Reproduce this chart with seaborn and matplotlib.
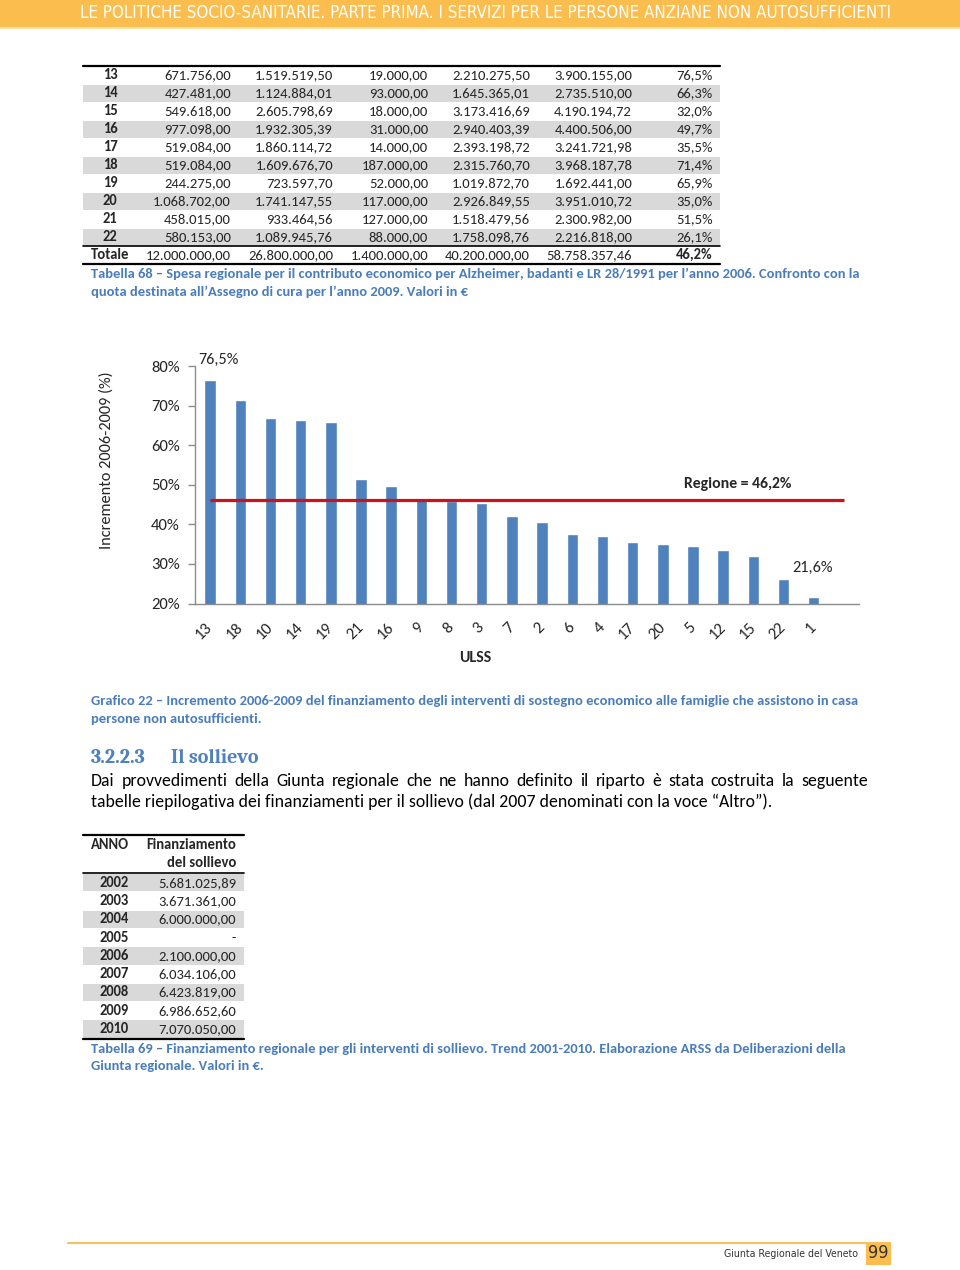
import matplotlib
matplotlib.use("Agg")
import matplotlib.pyplot as plt
import matplotlib.transforms as mtransforms
from matplotlib import font_manager
from matplotlib.font_manager import FontProperties
from matplotlib.patches import Rectangle
import pandas as pd
import seaborn as sns

# --- Grafico 22: incremento 2006-2009 per ULSS ---
ulss_order = ["13", "18", "10", "14", "19", "21", "16", "9", "8", "3", "7",
              "2", "6", "4", "17", "20", "5", "12", "15", "22", "1"]
incremento = [76.5, 71.4, 66.9, 66.3, 65.9, 51.5, 49.7, 46.7, 46.0, 45.5, 42.0,
              40.7, 37.5, 37.0, 35.5, 35.0, 34.5, 33.6, 32.0, 26.1, 21.6]
regione = 46.2

# --- Tabella 68 (righe visibili) ---
t68_ulss = ["13", "14", "15", "16", "17", "18", "19", "20", "21", "22", "Totale"]
t68_alzheimer = ["671.756,00", "427.481,00", "549.618,00", "977.098,00", "519.084,00",
                 "519.084,00", "244.275,00", "1.068.702,00", "458.015,00", "580.153,00",
                 "12.000.000,00"]
t68_badanti = ["1.519.519,50", "1.124.884,01", "2.605.798,69", "1.932.305,39", "1.860.114,72",
               "1.609.676,70", "723.597,70", "1.741.147,55", "933.464,56", "1.089.945,76",
               "26.800.000,00"]
t68_lr28 = ["19.000,00", "93.000,00", "18.000,00", "31.000,00", "14.000,00", "187.000,00",
            "52.000,00", "117.000,00", "127.000,00", "88.000,00", "1.400.000,00"]
t68_tot2006 = ["2.210.275,50", "1.645.365,01", "3.173.416,69", "2.940.403,39", "2.393.198,72",
               "2.315.760,70", "1.019.872,70", "2.926.849,55", "1.518.479,56", "1.758.098,76",
               "40.200.000,00"]
t68_assegno2009 = ["3.900.155,00", "2.735.510,00", "4.190.194,72", "4.400.506,00", "3.241.721,98",
                   "3.968.187,78", "1.692.441,00", "3.951.010,72", "2.300.982,00", "2.216.818,00",
                   "58.758.357,46"]
t68_incr = ["76,5%", "66,3%", "32,0%", "49,7%", "35,5%", "71,4%", "65,9%", "35,0%",
            "51,5%", "26,1%", "46,2%"]

# --- Tabella 69 ---
t69_anni = ["2002", "2003", "2004", "2005", "2006", "2007", "2008", "2009", "2010"]
t69_fin = ["5.681.025,89", "3.671.361,00", "6.000.000,00", "-", "2.100.000,00",
           "6.034.106,00", "6.423.819,00", "6.986.652,60", "7.070.050,00"]

BLUE = "#4F81BD"
CAP = "#4A7DBA"
ORANGE = "#FBBE4E"
GREY = "#D9D9D9"

available = {f.name for f in font_manager.fontManager.ttflist}
def pick(*names):
    for n in names:
        if n in available:
            return n
    return "DejaVu Sans"

BODY = pick("Carlito", "Lato", "Open Sans")
NARROW = pick("Liberation Sans Narrow", "Liberation Sans", "Arial")
SERIF = pick("Caladea", "Liberation Serif", "DejaVu Serif")

# a condensed face for the running header, if one is installed
header_prop = FontProperties(family=NARROW)
for f in font_manager.fontManager.ttflist:
    if ("Narrow" in f.name or "Condensed" in f.name or str(f.stretch) in ("condensed", "semi-condensed")) \
            and f.style == "normal" and f.weight in (400, "normal", "regular", "book"):
        header_prop = FontProperties(fname=f.fname)
        break

sns.set_theme(style="white")
plt.rcParams["font.family"] = [BODY, "DejaVu Sans"]

fig = plt.figure(figsize=(9.6, 12.7), dpi=100)
page = fig.add_axes([0, 0, 1, 1], zorder=0)
page.set_xlim(0, 960)
page.set_ylim(1270, 0)
page.axis("off")
renderer = fig.canvas.get_renderer()

def width_of(t):
    return t.get_window_extent(renderer=renderer).width

def fit_line(x0, x1, y, s, size, **kw):
    t = page.text(x0, y, s, fontsize=size, va="center", **kw)
    new = size * (x1 - x0) / width_of(t)
    t.set_fontsize(new)
    return new

def justify(x0, x1, y, s, size, **kw):
    ts = [page.text(0, y, w, fontsize=size, va="center", **kw) for w in s.split()]
    ws = [width_of(t) for t in ts]
    gap = (x1 - x0 - sum(ws)) / (len(ts) - 1)
    x = x0
    for t, w in zip(ts, ws):
        t.set_x(x)
        x += w + gap

# header band
page.add_patch(Rectangle((0, 0), 960, 27, color=ORANGE, lw=0))
page.add_patch(Rectangle((0, 27), 960, 2, color="#FDE3A8", lw=0))
t = page.text(80, 13.5, "LE POLITICHE SOCIO-SANITARIE. PARTE PRIMA. I SERVIZI PER LE PERSONE ANZIANE NON AUTOSUFFICIENTI",
              fontproperties=header_prop, va="center", color="white")
t.set_fontsize(13)
t.set_fontsize(13 * 810 / width_of(t))

# Tabella 68
TS = 10.5
cols68 = [t68_alzheimer, t68_badanti, t68_lr28, t68_tot2006, t68_assegno2009, t68_incr]
right68 = [231, 333, 428, 530, 632, 713]
for i, lab in enumerate(t68_ulss):
    y = 75 + 18 * i
    if i % 2 == 1 and lab != "Totale":
        page.add_patch(Rectangle((83, y - 8.5), 637, 17, color=GREY, lw=0))
    page.text(110, y, lab, ha="center", va="center", fontsize=TS, weight="bold")
    for col, xr in zip(cols68, right68):
        bold = lab == "Totale" and col is t68_incr
        page.text(xr, y, col[i], ha="right", va="center", fontsize=TS,
                  weight="bold" if bold else "normal")
page.plot([83, 720], [65.5, 65.5], color="black", lw=1.6)
page.plot([83, 720], [245.5, 245.5], color="black", lw=1.2)
page.plot([83, 720], [264, 264], color="black", lw=1.6)
s = fit_line(91, 860, 274, "Tabella 68 – Spesa regionale per il contributo economico per Alzheimer, badanti e LR 28/1991 per l’anno 2006. Confronto con la",
             9.5, color=CAP, weight="bold")
page.text(91, 292, "quota destinata all’Assegno di cura per l’anno 2009. Valori in €", fontsize=s,
          va="center", color=CAP, weight="bold")

# Grafico 22
CS = 12
df = pd.DataFrame({"ulss": ulss_order, "incremento": incremento})
ax = fig.add_axes([195 / 960, 1 - 603.5 / 1270, 664 / 960, (603.5 - 366) / 1270], zorder=2)
ax.set_facecolor("none")
sns.barplot(data=df, x="ulss", y="incremento", order=ulss_order, color=BLUE,
            saturation=1, width=0.38, errorbar=None, ax=ax)
ax.hlines(regione, 0, len(ulss_order), color="#C8141E", lw=2.3, zorder=3)
ax.set_xlim(-0.5, len(ulss_order) + 0.5)
ax.set_ylim(20, 80)
ax.set_yticks(range(20, 81, 10))
ax.set_yticklabels([f"{v}%" for v in range(20, 81, 10)])
ax.set_xlabel("")
ax.set_ylabel("")
for side in ["top", "right"]:
    ax.spines[side].set_visible(False)
for side in ["left", "bottom"]:
    ax.spines[side].set_color("#8C8C8C")
    ax.spines[side].set_linewidth(1)
ax.tick_params(axis="y", length=5, width=1, color="#8C8C8C", pad=6, labelsize=CS, left=True)
ax.tick_params(axis="x", length=0, pad=12, labelsize=CS)
shift = mtransforms.ScaledTranslation(0.05, 0, fig.dpi_scale_trans)
for lab in ax.get_xticklabels():
    lab.set_rotation(45)
    lab.set_ha("right")
    lab.set_transform(lab.get_transform() + shift)
ax.text(-0.4, 81.5, "76,5%", fontsize=11.7, va="center", clip_on=False)
ax.text(15.7, 50.2, "Regione = 46,2%", fontsize=11.3, weight="bold", va="center")
ax.text(19.3, 29.0, "21,6%", fontsize=11.7, va="center")
page.text(107, 460, "Incremento 2006-2009 (%)", rotation=90, ha="center", va="center", fontsize=11.8)
page.text(475, 658, "ULSS", ha="center", va="center", fontsize=11.5, weight="bold")

s = fit_line(91, 857, 701, "Grafico 22 – Incremento 2006-2009 del finanziamento degli interventi di sostegno economico alle famiglie che assistono in casa",
             9.5, color=CAP, weight="bold")
page.text(91, 719, "persone non autosufficienti.", fontsize=s, va="center", color=CAP, weight="bold")

# paragrafo 3.2.2.3
page.text(91, 758, "3.2.2.3", fontsize=14.5, family=SERIF, weight="bold", color=BLUE, va="center")
page.text(171, 758, "Il sollievo", fontsize=14.5, family=SERIF, weight="bold", color=BLUE, va="center")
s = fit_line(91, 768, 802, "tabelle riepilogativa dei finanziamenti per il sollievo (dal 2007 denominati con la voce “Altro”).",
             12, color="black")
justify(91, 868, 781, "Dai provvedimenti della Giunta regionale che ne hanno definito il riparto è stata costruita la seguente",
        s, color="black")

# Tabella 69
page.plot([83, 244], [835, 835], color="black", lw=1.6)
page.text(91, 845, "ANNO", va="center", fontsize=TS, weight="bold")
page.text(236, 845, "Finanziamento", ha="right", va="center", fontsize=TS, weight="bold")
page.text(236, 863, "del sollievo", ha="right", va="center", fontsize=TS, weight="bold")
page.plot([83, 244], [873, 873], color="black", lw=1.2)
for i, (anno, fin) in enumerate(zip(t69_anni, t69_fin)):
    y = 882.7 + 18.3 * i
    if i % 2 == 0:
        page.add_patch(Rectangle((83, y - 8.7), 161, 17.4, color=GREY, lw=0))
    page.text(114.5, y, anno, ha="center", va="center", fontsize=TS, weight="bold")
    page.text(236, y, fin, ha="right", va="center", fontsize=TS)
page.plot([83, 244], [1039, 1039], color="black", lw=1.6)
s = fit_line(91, 845, 1049, "Tabella 69 – Finanziamento regionale per gli interventi di sollievo. Trend 2001-2010. Elaborazione ARSS da Deliberazioni della",
             9.5, color=CAP, weight="bold")
page.text(91, 1066, "Giunta regionale. Valori in €.", fontsize=s, va="center", color=CAP, weight="bold")

# footer
page.plot([68, 890], [1242.5, 1242.5], color="#F8C060", lw=1.5)
page.add_patch(Rectangle((866, 1242), 25, 23, color=ORANGE, lw=0))
t = page.text(724, 1254, "Giunta Regionale del Veneto", fontproperties=header_prop, va="center", color="#333333")
t.set_fontsize(9)
t.set_fontsize(9 * 134 / width_of(t))
t = page.text(878.5, 1253.5, "99", fontproperties=header_prop, ha="center", va="center", color="#333333")
t.set_fontsize(13)

fig.savefig("out.png", dpi=100)
